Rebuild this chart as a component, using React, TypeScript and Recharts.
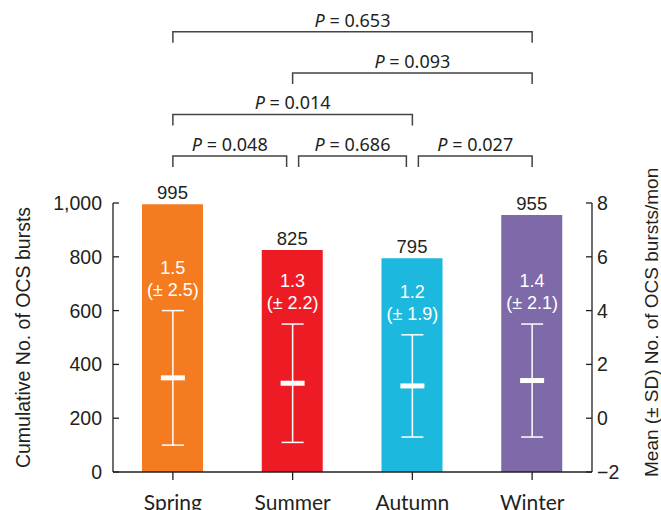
import React from 'react';
import {
  ComposedChart, Bar, Line, Cell, XAxis, YAxis, LabelList, ErrorBar, ReferenceLine, Label,
} from 'recharts';

const seasons = ['Spring', 'Summer', 'Autumn', 'Winter'];
const cumulativeBursts = [995, 825, 795, 955];
const monthlyMean = [1.5, 1.3, 1.2, 1.4];
const monthlySd = [2.5, 2.2, 1.9, 2.1];
const leftTicks = [0, 200, 400, 600, 800, 1000];
const rightTicks = [-2, 0, 2, 4, 6, 8];

// pairwise comparisons shown as brackets above the bars
const compareFrom = ['Spring', 'Summer', 'Autumn', 'Spring', 'Summer', 'Spring'];
const compareTo = ['Summer', 'Autumn', 'Winter', 'Autumn', 'Winter', 'Winter'];
const pValues = ['0.048', '0.686', '0.027', '0.014', '0.093', '0.653'];

const COLORS = ['#F47B20', '#ED1C24', '#1DB8DD', '#7E69A9'];
const INK = '#231F20';
const BRACKET_INK = '#444';
const BRACKET_ROW = [0, 0, 0, 1, 2, 3];
// bracket rows sit above the plot, expressed in left-axis units
const BRACKET_BASE = 1175;
const BRACKET_STEP = 154;
const NUM_FONT = '"Liberation Sans", Arial, sans-serif';

const data = seasons.map((season, i) => ({
  season,
  count: cumulativeBursts[i],
  mean: monthlyMean[i],
  sd: monthlySd[i],
  upper: monthlyMean[i] + monthlySd[i],
}));

const minusFormat = (v: number) => (v < 0 ? `\u2212${-v}` : `${v}`);

const renderMeanMark = (p: any) => (
  <rect key={`mean-${p.index}`} x={p.cx - 12} y={p.cy - 2.5} width={24} height={5} fill="#fff" />
);

const renderMeanText = (p: any) => {
  const vb = p.viewBox || {};
  const x = p.x ?? (vb.x + (vb.width || 0) / 2);
  const y = p.y ?? vb.y;
  const i = p.index;
  return (
    <g key={`txt-${i}`}>
      <text x={x} y={y - 37} textAnchor="middle" fill="#fff" fontSize={18} fontFamily={NUM_FONT}>
        {monthlyMean[i].toFixed(1)}
      </text>
      <text x={x} y={y - 15} textAnchor="middle" fill="#fff" fontSize={18} fontFamily={NUM_FONT}>
        {`(\u00B1 ${monthlySd[i].toFixed(1)})`}
      </text>
    </g>
  );
};

const bracketShape = (i: number) => (p: any) => {
  const row = BRACKET_ROW[i];
  const inL = row === 0 && compareFrom[i] !== seasons[0] ? 6 : 0;
  const inR = row === 0 && compareTo[i] !== seasons[seasons.length - 1] ? 6 : 0;
  const x1 = p.x1 + inL;
  const x2 = p.x2 - inR;
  const y = p.y1;
  return (
    <g>
      <path d={`M${x1},${y + 11}V${y}H${x2}V${y + 11}`} fill="none" stroke={BRACKET_INK} strokeWidth={1.5} />
      <text x={(x1 + x2) / 2} y={y - 5} textAnchor="middle" fill={INK} fontSize={18} fontFamily='"Noto Sans", sans-serif'>
        <tspan fontStyle="italic">P</tspan> = {pValues[i]}
      </text>
    </g>
  );
};

const leftLabel = (p: any) => {
  const vb = p.viewBox;
  const cx = vb.x + 23;
  const cy = vb.y + vb.height / 2;
  return (
    <text x={cx} y={cy} transform={`rotate(-90 ${cx} ${cy})`} textAnchor="middle" dominantBaseline="central"
      fill={INK} fontSize={19.5} fontFamily={NUM_FONT}>
      Cumulative No. of OCS bursts
    </text>
  );
};

const rightLabel = (p: any) => {
  const vb = p.viewBox;
  const cx = vb.x + 59;
  const cy = vb.y + vb.height + 5;
  return (
    <text x={cx} y={cy} transform={`rotate(-90 ${cx} ${cy})`} textAnchor="start" dominantBaseline="central"
      fill={INK} fontSize={19} fontFamily={NUM_FONT}>
      Mean (± SD) No. of OCS bursts/mon
    </text>
  );
};

export default function App() {
  return (
    <div style={{ position: 'absolute', left: 0, top: 0 }}>
      <ComposedChart width={661} height={510} data={data} margin={{ top: 203, right: 0, bottom: 0, left: 0 }}>
        <XAxis
          dataKey="season"
          height={38}
          stroke={INK}
          strokeWidth={1.3}
          tickSize={8}
          tickMargin={15}
          tick={{ fill: INK, fontSize: 21, fontFamily: 'Lato, sans-serif' }}
        />
        <YAxis
          yAxisId="left"
          width={113}
          domain={[0, 1000]}
          ticks={leftTicks}
          stroke={INK}
          strokeWidth={1.3}
          tickSize={-6}
          tickMargin={17}
          tickFormatter={(v: number) => v.toLocaleString('en-US')}
          tick={{ fill: INK, fontSize: 19.5, fontFamily: NUM_FONT }}
        >
          <Label content={leftLabel} />
        </YAxis>
        <YAxis
          yAxisId="right"
          orientation="right"
          width={69}
          domain={[-2, 8]}
          ticks={rightTicks}
          stroke={INK}
          strokeWidth={1.3}
          tickSize={-6}
          tickMargin={11}
          tickFormatter={minusFormat}
          tick={{ fill: INK, fontSize: 19.5, fontFamily: NUM_FONT }}
        >
          <Label content={rightLabel} />
        </YAxis>
        <Bar yAxisId="left" dataKey="count" barSize={61} isAnimationActive={false}>
          {data.map((d, i) => (
            <Cell key={d.season} fill={COLORS[i]} />
          ))}
          <LabelList dataKey="count" position="top" offset={5} fill={INK} fontSize={18.5} fontFamily={NUM_FONT} />
        </Bar>
        <Line yAxisId="right" dataKey="upper" stroke="none" dot={false} activeDot={false} isAnimationActive={false}>
          <LabelList dataKey="upper" content={renderMeanText} />
        </Line>
        <Line yAxisId="right" dataKey="mean" stroke="none" dot={renderMeanMark} activeDot={false} isAnimationActive={false}>
          <ErrorBar dataKey="sd" width={11} stroke="#fff" strokeWidth={1.5} direction="y" isAnimationActive={false} />
        </Line>
        {pValues.map((pv, i) => (
          <ReferenceLine
            key={`br-${i}`}
            yAxisId="left"
            ifOverflow="visible"
            segment={[
              { x: compareFrom[i], y: BRACKET_BASE + BRACKET_ROW[i] * BRACKET_STEP },
              { x: compareTo[i], y: BRACKET_BASE + BRACKET_ROW[i] * BRACKET_STEP },
            ]}
            shape={bracketShape(i)}
          />
        ))}
      </ComposedChart>
    </div>
  );
}
